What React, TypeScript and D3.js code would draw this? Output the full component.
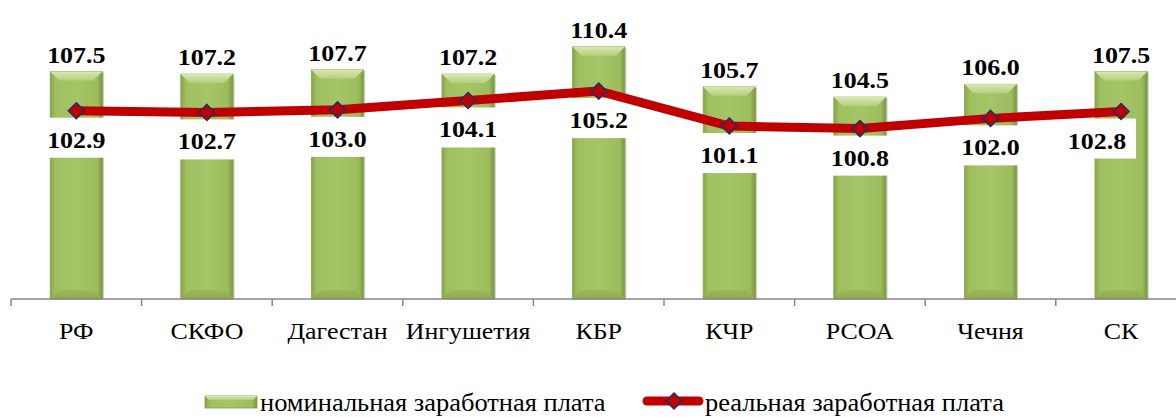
import React from "react";
import * as d3 from "d3";

const categories = ["РФ", "СКФО", "Дагестан", "Ингушетия", "КБР", "КЧР", "РСОА", "Чечня", "СК"];
const nominal = [107.5, 107.2, 107.7, 107.2, 110.4, 105.7, 104.5, 106.0, 107.5];
const real = [102.9, 102.7, 103.0, 104.1, 105.2, 101.1, 100.8, 102.0, 102.8];
const legendLabels = ["номинальная заработная плата", "реальная заработная плата"];

const W = 1176;
const H = 417;
const axisY = 299;
const x0 = 11;
const step = 130.6;
const yMin = 80.8;
const yMax = 115;
const pxPerUnit = 8.52;
const labelRight = 1136;
const SX = 1.08;

function T(props: {
  x: number;
  y: number;
  size: number;
  bold?: boolean;
  anchor?: string;
  children: React.ReactNode;
}) {
  return (
    <g transform={`translate(${props.x},${props.y}) scale(${SX},1)`}>
      <text
        x={0}
        y={0}
        textAnchor={props.anchor || "start"}
        fontFamily="Liberation Serif"
        style={{ fontFamily: `"Liberation Serif", "Times New Roman", "Tinos"` }}
        fontWeight={props.bold ? "bold" : "normal"}
        fontSize={props.size}
        fill="#000"
      >
        {props.children}
      </text>
    </g>
  );
}

export default function App() {
  const x = d3
    .scaleBand<string>()
    .domain(categories)
    .range([x0, x0 + step * categories.length])
    .paddingInner(0.6)
    .paddingOuter(0.3);
  const y = d3
    .scaleLinear()
    .domain([yMin, yMax])
    .range([axisY, axisY - (yMax - yMin) * pxPerUnit]);

  const bw = x.bandwidth();
  const cx = (c: string) => (x(c) as number) + bw / 2;

  const line = d3
    .line<number>()
    .x((_, i) => cx(categories[i]))
    .y((d) => y(d));

  const ticks = d3.range(categories.length + 1).map((i) => x0 + i * step);

  const bevel = 9;
  const boxW = 78;
  const labelCenter = (i: number) => {
    let center = cx(categories[i]);
    if (center + boxW / 2 > labelRight) center = labelRight - boxW / 2;
    return center;
  };

  const diamond = (px: number, py: number, r: number) =>
    `M${px},${py - r}L${px + r},${py}L${px},${py + r}L${px - r},${py}Z`;

  return (
    <svg width={W} height={H} style={{ position: "absolute", left: 0, top: 0, background: "#fff" }}>
      <defs>
        <linearGradient id="barH" x1="0" x2="1" y1="0" y2="0">
          <stop offset="0" stopColor="#86A548" />
          <stop offset="0.1" stopColor="#A0BF61" />
          <stop offset="0.5" stopColor="#A6C566" />
          <stop offset="0.9" stopColor="#9DBC5E" />
          <stop offset="1" stopColor="#7A9641" />
        </linearGradient>
        <linearGradient id="bevelTop" x1="0" x2="0" y1="0" y2="1">
          <stop offset="0" stopColor="#D9E8B4" />
          <stop offset="1" stopColor="#B4CF7C" />
        </linearGradient>
        <linearGradient id="bevelBot" x1="0" x2="0" y1="0" y2="1">
          <stop offset="0" stopColor="#9CBA5C" />
          <stop offset="1" stopColor="#8CAA4E" />
        </linearGradient>
      </defs>

      {/* bars */}
      {categories.map((c, i) => {
        const bx = x(c) as number;
        const by = y(nominal[i]);
        const bh = axisY - by;
        return (
          <g key={c}>
            <rect x={bx + 1.5} y={by + 1} width={bw} height={bh - 1} fill="#C9C9C9" />
            <rect x={bx} y={by} width={bw} height={bh} fill="url(#barH)" stroke="#8AA64E" strokeWidth={0.8} />
            <path
              d={`M${bx},${by}L${bx + bw},${by}L${bx + bw - bevel},${by + bevel}L${bx + bevel},${by + bevel}Z`}
              fill="url(#bevelTop)"
            />
            <path
              d={`M${bx},${axisY}L${bx + bw},${axisY}L${bx + bw - bevel},${axisY - bevel}L${bx + bevel},${axisY - bevel}Z`}
              fill="url(#bevelBot)"
            />
          </g>
        );
      })}

      {/* axis */}
      <line x1={x0} x2={W} y1={axisY} y2={axisY} stroke="#868686" strokeWidth={1.5} />
      {ticks.map((t, i) => (
        <line key={i} x1={t} x2={t} y1={axisY} y2={axisY + 7} stroke="#868686" strokeWidth={1.5} />
      ))}
      {categories.map((c) => (
        <T key={c} x={cx(c)} y={339} size={24} anchor="middle">
          {c}
        </T>
      ))}

      {/* nominal labels */}
      {categories.map((c, i) => (
        <T key={c} x={cx(c)} y={y(nominal[i]) - 9} size={24} bold anchor="middle">
          {nominal[i].toFixed(1)}
        </T>
      ))}

      {/* label boxes for real values */}
      {real.map((v, i) => (
        <rect key={i} x={labelCenter(i) - boxW / 2} y={y(v) + 7} width={boxW} height={40} fill="#fff" />
      ))}

      {/* real line */}
      <path d={line(real) || ""} fill="none" stroke="#C00000" strokeWidth={9} strokeLinejoin="round" />
      {real.map((v, i) => (
        <path key={i} d={diamond(cx(categories[i]), y(v), 8)} fill="#C00000" stroke="#1F2F6B" strokeWidth={1.5} />
      ))}

      {/* real labels */}
      {real.map((v, i) => (
        <T key={i} x={labelCenter(i)} y={y(v) + 37} size={24} bold anchor="middle">
          {v.toFixed(1)}
        </T>
      ))}

      {/* legend */}
      <g>
        <rect x={205} y={396} width={52} height={12} fill="url(#barH)" stroke="#7F9B44" strokeWidth={0.8} />
        <path d={`M205,396L257,396L253,400L209,400Z`} fill="url(#bevelTop)" />
        <T x={260} y={411} size={24.5}>
          {legendLabels[0]}
        </T>
        <line x1={647} x2={699} y1={401} y2={401} stroke="#C00000" strokeWidth={9} strokeLinecap="round" />
        <path d={diamond(674, 401, 8)} fill="#C00000" stroke="#1F2F6B" strokeWidth={1.5} />
        <T x={705} y={411} size={24.5}>
          {legendLabels[1]}
        </T>
      </g>
    </svg>
  );
}
